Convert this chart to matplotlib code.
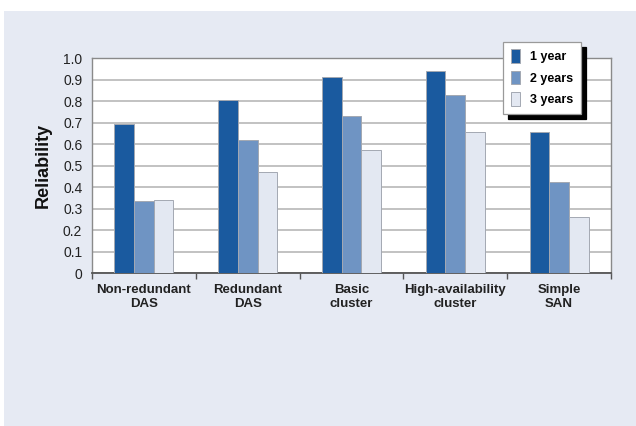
import matplotlib
matplotlib.use("Agg")
import matplotlib.pyplot as plt
from matplotlib.patches import Rectangle
import numpy as np

categories = ["Non-redundant\nDAS", "Redundant\nDAS", "Basic\ncluster",
              "High-availability\ncluster", "Simple\nSAN"]
series_names = ["1 year", "2 years", "3 years"]
one_year = [0.695, 0.806, 0.915, 0.941, 0.657]
two_years = [0.337, 0.622, 0.733, 0.831, 0.426]
three_years = [0.342, 0.473, 0.572, 0.659, 0.264]
y_ticks = [0, 0.1, 0.2, 0.3, 0.4, 0.5, 0.6, 0.7, 0.8, 0.9, 1.0]
y_tick_labels = ["0", "0.1", "0.2", "0.3", "0.4", "0.5", "0.6", "0.7", "0.8", "0.9", "1.0"]

colors = ["#1a5a9f", "#6f94c3", "#e3e8f2"]
bg = "#e6eaf3"

plt.rcParams["font.family"] = ["Liberation Sans", "DejaVu Sans"]

fig = plt.figure(figsize=(6.36, 4.26), dpi=100, facecolor="white")
fig.patches.append(Rectangle((4 / 636, 0), 1, (426 - 11) / 426,
                             transform=fig.transFigure, facecolor=bg,
                             edgecolor="none", zorder=-10))

ax = fig.add_axes([92 / 636, 152.7 / 426, 519 / 636, 215 / 426])
ax.set_facecolor("white")

x = np.arange(len(categories))
w = 0.19
for i, (vals, name) in enumerate(zip([one_year, two_years, three_years], series_names)):
    ax.bar(x + (i - 1) * w, vals, width=w, color=colors[i], edgecolor="#a3a8b2",
           linewidth=0.7, label=name, zorder=3)

ax.set_xlim(-0.5, len(categories) - 0.5)
ax.set_ylim(0, 1.0)
ax.set_yticks(y_ticks)
ax.set_yticklabels(y_tick_labels, fontsize=10, color="#222222")
ax.tick_params(axis="y", length=0, pad=7)
ax.yaxis.grid(True, color="#bdbdbd", linewidth=1.3, zorder=0)
ax.set_axisbelow(True)

ax.set_xticks(x)
ax.set_xticklabels(categories, fontsize=9.5, fontweight="bold", color="#222222",
                   linespacing=1.15)
ax.tick_params(axis="x", which="major", length=0, pad=8)
ax.set_xticks(np.arange(-0.5, len(categories)), minor=True)
ax.tick_params(axis="x", which="minor", length=4, width=1, color="#555555", direction="out")

for side in ["left", "right", "top"]:
    ax.spines[side].set_color("#8a8a8a")
    ax.spines[side].set_linewidth(1.0)
ax.spines["bottom"].set_color("#555555")
ax.spines["bottom"].set_linewidth(1.3)

ax.set_ylabel("Reliability", fontsize=13, fontweight="bold", color="#111111", labelpad=8)

leg = ax.legend(loc="upper left", bbox_to_anchor=(0.792, 1.078), frameon=True,
                fancybox=False, edgecolor="#9a9a9a", framealpha=1,
                prop={"weight": "bold", "size": 9}, handlelength=0.75,
                handleheight=1.3, handletextpad=0.8, labelspacing=0.6,
                borderpad=0.6, borderaxespad=0.0,
                shadow={"ox": 3.5, "oy": -4, "facecolor": "black",
                        "edgecolor": "black", "alpha": 1})
leg.get_frame().set_linewidth(0.9)
leg.set_zorder(10)

fig.savefig("out.png", dpi=100, facecolor=fig.get_facecolor())
